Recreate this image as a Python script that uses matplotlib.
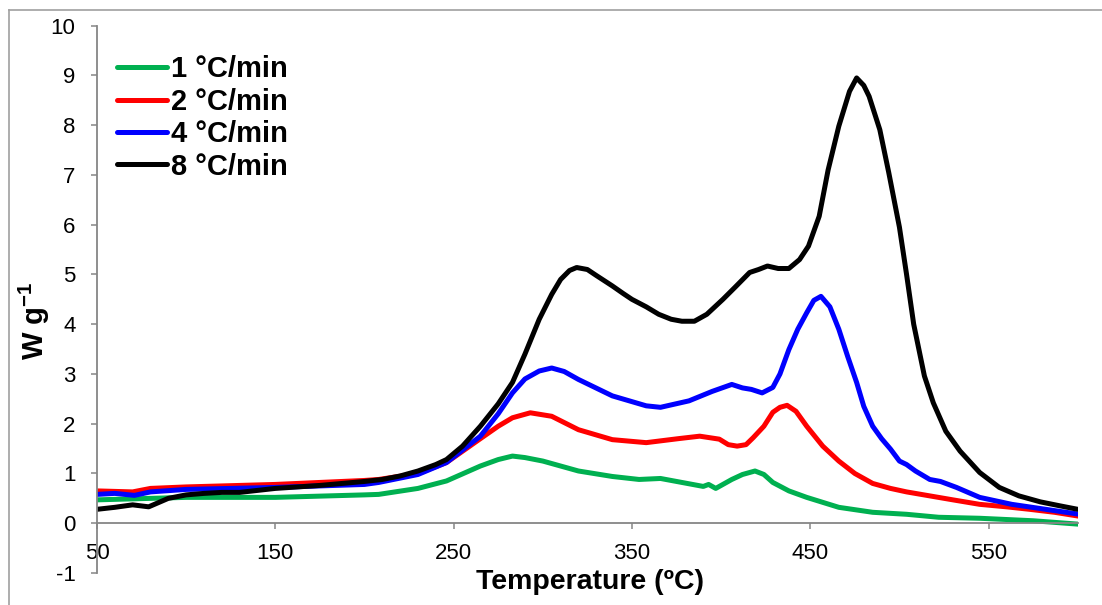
import matplotlib
matplotlib.use("Agg")
import matplotlib.pyplot as plt
from matplotlib.lines import Line2D

plt.rcParams['font.family'] = ['Liberation Sans', 'DejaVu Sans']
plt.rcParams['mathtext.default'] = 'regular'
plt.rcParams['axes.unicode_minus'] = False

labels = ['1 °C/min', '2 °C/min', '4 °C/min', '8 °C/min']
colors = ['#00B050', '#FF0000', '#0000FF', '#000000']

t1 = [50, 60, 80, 100, 150, 200, 208, 230, 246, 265, 275, 283, 290, 300, 320, 339, 354, 366, 378, 390, 393, 397, 406, 412, 419, 424, 429, 438, 448, 466, 485, 504, 522, 545, 575, 601]
w1 = [0.47, 0.48, 0.50, 0.52, 0.52, 0.57, 0.58, 0.70, 0.85, 1.15, 1.28, 1.35, 1.32, 1.25, 1.05, 0.94, 0.88, 0.90, 0.82, 0.74, 0.78, 0.70, 0.88, 0.98, 1.05, 0.98, 0.82, 0.65, 0.52, 0.32, 0.22, 0.18, 0.12, 0.10, 0.05, -0.02]

t2 = [50, 60, 70, 80, 100, 150, 200, 208, 230, 246, 265, 275, 283, 293, 305, 320, 339, 358, 376, 388, 399, 404, 409, 414, 418, 424, 429, 433, 437, 442, 448, 457, 466, 475, 485, 495, 504, 517, 530, 545, 560, 573, 587, 601]
w2 = [0.65, 0.64, 0.63, 0.70, 0.73, 0.78, 0.86, 0.88, 1.00, 1.22, 1.70, 1.95, 2.12, 2.22, 2.15, 1.88, 1.68, 1.62, 1.70, 1.75, 1.69, 1.58, 1.55, 1.58, 1.72, 1.95, 2.23, 2.33, 2.37, 2.25, 1.95, 1.55, 1.25, 1.00, 0.80, 0.70, 0.63, 0.55, 0.47, 0.38, 0.33, 0.28, 0.22, 0.14]

t4 = [50, 60, 71, 80, 100, 150, 200, 208, 230, 246, 265, 275, 283, 290, 298, 305, 312, 320, 339, 358, 366, 382, 395, 406, 412, 417, 423, 429, 433, 438, 443, 448, 452, 456, 461, 466, 471, 476, 480, 485, 490, 495, 500, 504, 509, 517, 523, 532, 545, 563, 582, 601]
w4 = [0.58, 0.60, 0.56, 0.63, 0.68, 0.72, 0.78, 0.82, 0.98, 1.22, 1.75, 2.20, 2.62, 2.90, 3.06, 3.12, 3.05, 2.89, 2.56, 2.36, 2.33, 2.46, 2.65, 2.79, 2.72, 2.69, 2.62, 2.73, 3.00, 3.49, 3.90, 4.23, 4.48, 4.56, 4.35, 3.90, 3.35, 2.83, 2.35, 1.95, 1.70, 1.49, 1.25, 1.18, 1.05, 0.88, 0.84, 0.72, 0.52, 0.38, 0.28, 0.18]

t8 = [50, 60, 70, 79, 90, 100, 110, 120, 130, 150, 175, 200, 210, 220, 230, 240, 246, 255, 265, 275, 283, 290, 298, 305, 310, 315, 319, 325, 330, 339, 345, 350, 358, 365, 372, 378, 385, 392, 401, 408, 416, 421, 426, 432, 438, 444, 449, 455, 460, 466, 472, 476, 480, 483, 489, 494, 500, 504, 508, 514, 519, 526, 534, 545, 556, 567, 579, 590, 600]
w8 = [0.28, 0.32, 0.37, 0.33, 0.50, 0.57, 0.60, 0.62, 0.62, 0.70, 0.76, 0.84, 0.88, 0.95, 1.05, 1.18, 1.28, 1.55, 1.95, 2.40, 2.83, 3.40, 4.10, 4.60, 4.90, 5.08, 5.14, 5.10, 4.98, 4.77, 4.62, 4.50, 4.35, 4.20, 4.10, 4.06, 4.06, 4.20, 4.50, 4.75, 5.04, 5.10, 5.17, 5.12, 5.12, 5.30, 5.57, 6.17, 7.10, 7.98, 8.68, 8.95, 8.80, 8.58, 7.91, 7.05, 5.95, 5.00, 4.00, 2.96, 2.42, 1.85, 1.45, 1.02, 0.72, 0.55, 0.43, 0.35, 0.28]

series_t = [t1, t2, t4, t8]
series_w = [w1, w2, w4, w8]

xticks = [50, 150, 250, 350, 450, 550]
yticks = list(range(-1, 11))

fig = plt.figure(figsize=(11.02, 6.05), dpi=100)
ax = fig.add_axes([0.088, 0.0529, 0.890, 0.9046])

for t, w, c, lab in zip(series_t, series_w, colors, labels):
    ax.plot(t, w, color=c, lw=3.6, solid_joinstyle='round', solid_capstyle='round', label=lab)

ax.set_xlim(50, 600)
ax.set_ylim(-1, 10)
ax.set_xticks(xticks)
ax.set_yticks(yticks)

gray = '#868686'
for s in ['top', 'right']:
    ax.spines[s].set_visible(False)
ax.spines['bottom'].set_position(('data', 0))
for s in ['left', 'bottom']:
    ax.spines[s].set_color(gray)
    ax.spines[s].set_linewidth(1.3)
ax.tick_params(axis='both', direction='out', length=4.5, width=1.1, color=gray,
               labelsize=16, labelcolor='black')
ax.tick_params(axis='y', pad=11)
ax.tick_params(axis='x', pad=10)

ax.set_xlabel('Temperature (ºC)', fontsize=20.5, fontweight='bold')
ax.xaxis.set_label_coords(0.503, 0.007)
ax.set_ylabel('W g$^{-1}$', fontsize=21, fontweight='bold')
ax.yaxis.set_label_coords(-0.046, 0.46)

handles = [Line2D([0], [0], color=c, lw=3.6, solid_capstyle='round') for c in colors]
leg = ax.legend(handles, labels, loc='upper left', bbox_to_anchor=(0.0, 0.983),
                frameon=False, prop={'size': 21, 'weight': 'bold'},
                handlelength=1.7, handletextpad=0.15, labelspacing=0.15,
                borderaxespad=0.3)

# chart area border
fig.add_artist(Line2D([9 / 1102, 9 / 1102], [0, 1 - 10 / 605], color='#a0a0a0', lw=1.2,
                      transform=fig.transFigure))
fig.add_artist(Line2D([9 / 1102, 1], [1 - 10 / 605, 1 - 10 / 605], color='#a0a0a0', lw=1.2,
                      transform=fig.transFigure))

fig.savefig('out.png', dpi=100)
